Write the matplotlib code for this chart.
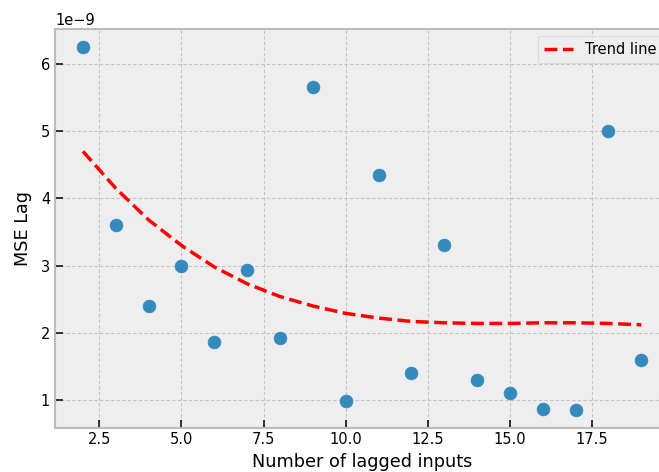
import numpy as np
import matplotlib
matplotlib.use("Agg")
import matplotlib.pyplot as plt

plt.style.use("bmh")

lags = [2, 3, 4, 5, 6, 7, 8, 9, 10, 11, 12, 13, 14, 15, 16, 17, 18, 19]
mse = [6.25, 3.6, 2.4, 3.0, 1.87, 2.93, 1.92, 5.65, 0.98, 4.35,
       1.4, 3.3, 1.3, 1.1, 0.87, 0.86, 5.0, 1.6]
trend = [4.7, 4.15, 3.68, 3.3, 2.98, 2.73, 2.54, 2.4, 2.29, 2.22,
         2.17, 2.15, 2.14, 2.14, 2.15, 2.15, 2.14, 2.12]

mse = np.array(mse) * 1e-9
trend = np.array(trend) * 1e-9

fig = plt.figure(figsize=(6.59, 4.72), dpi=100)
ax = fig.add_axes([0.0835, 0.094, 0.932, 0.8445])
ax.scatter(lags, mse, s=85, color="#348ABD", zorder=3)
ax.plot(lags, trend, "r--", linewidth=2.5, label="Trend line")
ax.set_xlabel("Number of lagged inputs", fontsize=12.7)
ax.set_ylabel("MSE Lag", fontsize=12.7, labelpad=6)
ax.grid(True, linestyle=(0, (3, 2)), color="#c2c2c2", linewidth=0.8)
ax.tick_params(direction="in", length=6, width=1.3, color="#222222", labelsize=10.5)
ax.yaxis.get_offset_text().set_fontsize(10.5)
for sp in ax.spines.values():
    sp.set_color("#bcbcbc")
    sp.set_linewidth(1.5)
ax.legend(loc="upper right", fontsize=10.5)
fig.savefig("out.png", dpi=100)
